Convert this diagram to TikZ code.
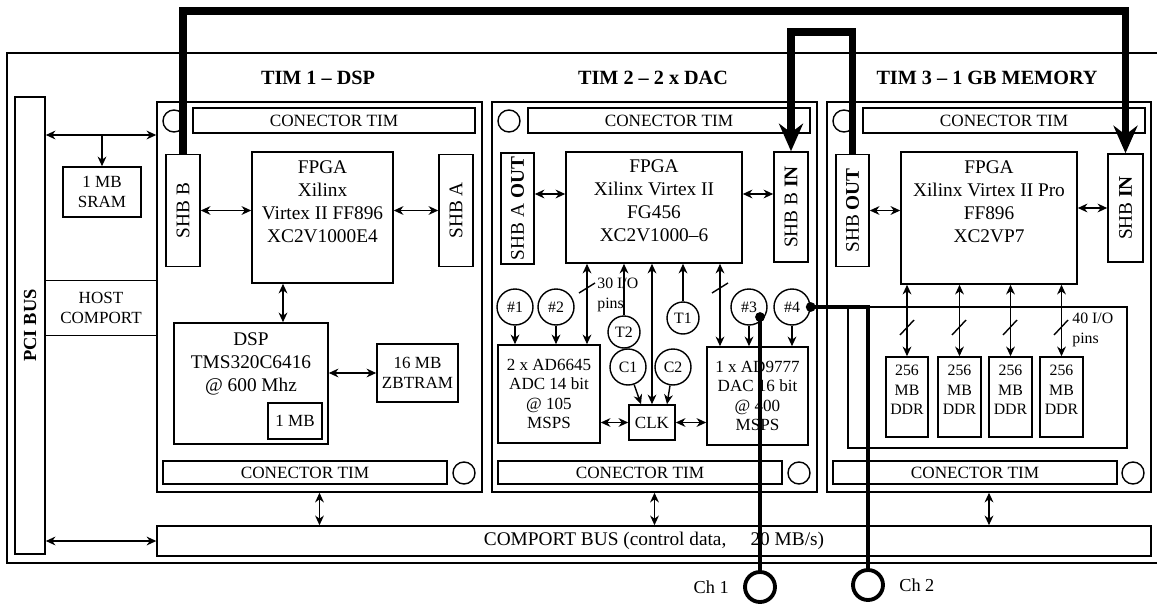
\documentclass[tikz,border=0pt]{standalone}
\usepackage{fontspec}
\setmainfont{Liberation Serif}
\usetikzlibrary{arrows.meta,positioning}

\begin{document}
\begin{tikzpicture}[x=0.02cm, y=-0.02cm,
    >={Stealth[length=5.5pt,width=5pt]},
    every node/.style={font=\fontsize{11}{13}\selectfont, inner sep=0pt},
    box/.style={draw, line width=0.9pt, align=center},
    con/.style={box, minimum width=5.64cm, minimum height=0.5cm, font=\fontsize{9.8}{11}\selectfont},
    conb/.style={con, minimum width=5.68cm, minimum height=0.46cm},
    hole/.style={draw, circle, line width=0.8pt, minimum size=0.44cm},
    shbox/.style={box, minimum width=0.68cm, minimum height=2.24cm},
    pin/.style={draw, circle, line width=0.8pt, minimum size=0.72cm, font=\fontsize{9}{10}\selectfont},
    ddr/.style={box, minimum width=0.85cm, minimum height=1.6cm},
    small/.style={font=\fontsize{9.7}{11}\selectfont},
    title/.style={font=\fontsize{11.5}{13}\selectfont\bfseries},
    lbl/.style={align=left, font=\fontsize{9}{11}\selectfont},
    arr/.style={line width=0.8pt},
    bus/.style={line width=4.5pt, -{Stealth[length=0.55cm,width=0.48cm]}},
    wire/.style={line width=2.2pt}
  ]
  \useasboundingbox (0,0) rectangle (1157,605);

  % board
  \draw[line width=0.7pt] (1170,53) -- (7,53) -- (7,563) -- (1170,563);

  \node[box, minimum width=0.6cm, minimum height=9.14cm, font=\fontsize{10.5}{12}\selectfont\bfseries] (pci) at (30,325.5) {\rotatebox{90}{PCI BUS}};
  \node[box, small, minimum width=1.56cm, minimum height=1cm] (sram) at (102,192) {1 MB\\SRAM};
  \node[small, align=center, minimum width=2.24cm, minimum height=1.08cm] (host) at (101,308) {HOST\\COMPORT};
  \node[box, minimum width=19.88cm, minimum height=0.6cm] (cbus) at (654,541) {COMPORT BUS (control data,\hspace{1em} 20 MB/s)};

  % TIM frames
  \node[box, minimum width=6.5cm, minimum height=7.8cm] (tim1) at (319.5,297) {};
  \node[box, minimum width=6.5cm, minimum height=7.8cm] (tim2) at (654.5,297) {};
  \node[box, minimum width=6.48cm, minimum height=7.8cm] (tim3) at (989,297) {};
  \node[title] (name1) at (318,78) {TIM 1 – DSP};
  \node[title] (name2) at (653,78) {TIM 2 – 2 x DAC};
  \node[title] (name3) at (987,78) {TIM 3 – 1 GB MEMORY};

  \node[con] (ct1) at (334,120.5) {CONECTOR TIM};
  \node[con] (ct2) at (669,120.5) {CONECTOR TIM};
  \node[con] (ct3) at (1004,120.5) {CONECTOR TIM};
  \node[hole] (ht1) at (174,121) {};
  \node[hole] (ht2) at (509,121) {};
  \node[hole] (ht3) at (844,121) {};
  \node[conb] (cb1) at (305,472.5) {CONECTOR TIM};
  \node[conb] (cb2) at (640,472.5) {CONECTOR TIM};
  \node[conb] (cb3) at (975,472.5) {CONECTOR TIM};
  \node[hole] (hb1) at (464,473) {};
  \node[hole] (hb2) at (799,473) {};
  \node[hole] (hb3) at (1133,473) {};

  % TIM 1
  \node[shbox] (shbb1) at (183,210.5) {\rotatebox{90}{SHB B}};
  \node[box, minimum width=2.82cm, minimum height=2.62cm] (fpga1) at (322.5,217.5) {};
  \node[below=5.4pt of fpga1.north, align=center] (fpga1txt) {FPGA\\Xilinx\\Virtex II FF896\\XC2V1000E4};
  \node[shbox] (shba1) at (456,210.5) {\rotatebox{90}{SHB A}};
  \node[box, minimum width=3.08cm, minimum height=2.42cm] (dsp) at (251,383.5) {};
  \node[below=6pt of dsp.north, align=center] (dsptxt) {DSP\\TMS320C6416\\@ 600 Mhz};
  \node[box, small, minimum width=1.08cm, minimum height=0.72cm] (mb1) at (295,421) {1 MB};
  \node[box, small, minimum width=1.62cm, minimum height=1.16cm] (zbt) at (417.5,373) {16 MB\\ZBTRAM};

  % TIM 2
  \node[shbox, minimum width=0.66cm, minimum height=2.22cm] (shbao) at (517.5,208.5) {\rotatebox{90}{SHB A \textbf{OUT}}};
  \node[box, minimum width=3.52cm, minimum height=2.22cm] (fpga2) at (654,207.5) {};
  \node[below=4.9pt of fpga2.north, align=center] (fpga2txt) {FPGA\\Xilinx Virtex II\\FG456\\XC2V1000–6};
  \node[shbox, minimum height=2.2cm] (shbbi) at (791,207) {\rotatebox{90}{SHB B \textbf{IN}}};
  \node[box, small, minimum width=2.04cm, minimum height=1.96cm] (adc) at (549,394) {2 x AD6645\\ADC 14 bit\\@ 105\\MSPS};
  \node[box, small, minimum width=2.02cm, minimum height=1.96cm] (dac) at (757.5,396) {1 x AD9777\\DAC 16 bit\\@ 400\\MSPS};
  \node[box, small, minimum width=0.92cm, minimum height=0.7cm] (clk) at (652,422.5) {CLK};
  \node[pin] (n1) at (515,307) {\#1};
  \node[pin] (n2) at (556,307) {\#2};
  \node[pin] (n3) at (749,307) {\#3};
  \node[pin] (n4) at (792,307) {\#4};
  \node[pin, minimum size=0.64cm] (t2) at (624,332) {T2};
  \node[pin, minimum size=0.64cm] (t1) at (683,318) {T1};
  \node[pin] (c1) at (628,367) {C1};
  \node[pin] (c2) at (673,367) {C2};
  \node[lbl, anchor=west] (io30) at (597,295) {30 I/O\\pins};

  % TIM 3
  \node[shbox, minimum width=0.66cm] (shbo) at (852.5,210.5) {\rotatebox{90}{SHB \textbf{OUT}}};
  \node[box, minimum width=3.52cm, minimum height=2.64cm] (fpga3) at (989,218) {};
  \node[below=5.4pt of fpga3.north, align=center] (fpga3txt) {FPGA\\Xilinx Virtex II Pro\\FF896\\XC2VP7};
  \node[shbox, minimum width=0.7cm, minimum height=2.16cm] (shbi) at (1125.5,208) {\rotatebox{90}{SHB \textbf{IN}}};
  \node[box, minimum width=5.58cm, minimum height=2.82cm] (mem) at (987.5,377.5) {};
  \node[ddr] (ddr1) at (907,397) {};
  \node[ddr] (ddr2) at (959.5,397) {};
  \node[ddr] (ddr3) at (1010.5,397) {};
  \node[ddr] (ddr4) at (1061.5,397) {};
  \node[lbl, align=center, below=5pt of ddr1.north] (ddr1txt) {256\\MB\\DDR};
  \node[lbl, align=center, below=5pt of ddr2.north] (ddr2txt) {256\\MB\\DDR};
  \node[lbl, align=center, below=5pt of ddr3.north] (ddr3txt) {256\\MB\\DDR};
  \node[lbl, align=center, below=5pt of ddr4.north] (ddr4txt) {256\\MB\\DDR};
  \node[lbl, anchor=west] (io40) at (1072,330) {40 I/O\\pins};

  % outputs
  \node[draw, circle, line width=2.2pt, minimum size=0.6cm] (ch1) at (760,587) {};
  \node[draw, circle, line width=2.2pt, minimum size=0.6cm] (ch2) at (868,585) {};
  \node[left=8pt of ch1, font=\fontsize{10.4}{12}\selectfont] (ch1txt) {Ch 1};
  \node[right=8pt of ch2, font=\fontsize{10.4}{12}\selectfont] (ch2txt) {Ch 2};

  \coordinate (ysram) at (102,135);
  \coordinate (xdsp) at (283,300);
  \coordinate (yshb) at (0,194);
  \coordinate (xio) at (587,300);
  \coordinate (xdac) at (720,300);
  \coordinate (d3) at (760,317);

  % links
  \draw[arr, <->] (pci.east |- ysram) -- (tim1.west |- ysram);
  \draw[arr, ->] (ysram) -- (sram.north);
  \draw[arr] (host.north west) -- (host.north east);
  \draw[arr] (host.south west) -- (host.south east);
  \draw[arr, <->] (pci.east |- cbus) -- (cbus.west);
  \draw[arr, <->] (tim1.south) -- (cbus.north -| tim1.south);
  \draw[arr, <->] (tim2.south) -- (cbus.north -| tim2.south);
  \draw[arr, <->] (tim3.south) -- (cbus.north -| tim3.south);

  \draw[arr, <->] (shbb1.east) -- (fpga1.west |- shbb1.east);
  \draw[arr, <->] (fpga1.east |- shba1.west) -- (shba1.west);
  \draw[arr, <->] (fpga1.south -| xdsp) -- (dsp.north -| xdsp);
  \draw[arr, <->] (dsp.east |- zbt) -- (zbt.west);

  \draw[arr, <->] (shbao.east |- yshb) -- (fpga2.west |- yshb);
  \draw[arr, <->] (fpga2.east |- yshb) -- (shbbi.west |- yshb);
  \draw[arr, <->] (fpga2.south -| xio) -- (adc.north -| xio);
  \draw[arr, ->] (t2) -- (fpga2.south -| t2);
  \draw[arr, <->] (clk.north) -- (fpga2.south -| clk.north);
  \draw[arr, ->] (t1) -- (fpga2.south -| t1);
  \draw[arr, <->] (fpga2.south -| xdac) -- (dac.north -| xdac);
  \draw[arr] (579,293) -- (595,283);
  \draw[arr] (712,293) -- (728,283);
  \draw[arr, ->] (n1) -- (adc.north -| n1);
  \draw[arr, ->] (n2) -- (adc.north -| n2);
  \draw[arr, ->] (n3) -- (dac.north -| n3);
  \draw[arr, ->] (n4) -- (dac.north -| n4);
  \draw[arr, ->] (c1) -- ([xshift=-0.22cm]clk.north);
  \draw[arr, ->] (c2) -- ([xshift=0.3cm]clk.north);
  \draw[arr, <->] (adc.east |- clk) -- (clk.west);
  \draw[arr, <->] (clk.east) -- (dac.west |- clk);

  \draw[arr, <->] (shbo.east) -- (fpga3.west |- shbo.east);
  \draw[arr, <->] (fpga3.east |- shbi.west) -- (shbi.west);
  \draw[arr, <->] (fpga3.south -| ddr1) -- (ddr1.north);
  \draw[arr, <->] (fpga3.south -| ddr2) -- (ddr2.north);
  \draw[arr, <->] (fpga3.south -| ddr3) -- (ddr3.north);
  \draw[arr, <->] (fpga3.south -| ddr4) -- (ddr4.north);
  \draw[arr] (900,335) -- (914,320);
  \draw[arr] (952,335) -- (966,320);
  \draw[arr] (1003,335) -- (1017,320);
  \draw[arr] (1054,335) -- (1068,320);

  % analog outputs
  \fill (d3) circle (2.8pt);
  \draw[wire] (d3) -- (ch1.north);
  \fill (n4.east) circle (2.8pt);
  \draw[wire] (n4.east) -| (ch2.north);

  % SHB links
  \draw[bus] (shbb1.north) -- ++(0,-143) -| (shbi.north);
  \draw[bus] (shbo.north) -- ++(0,-122) -| (shbbi.north);
\end{tikzpicture}
\end{document}
